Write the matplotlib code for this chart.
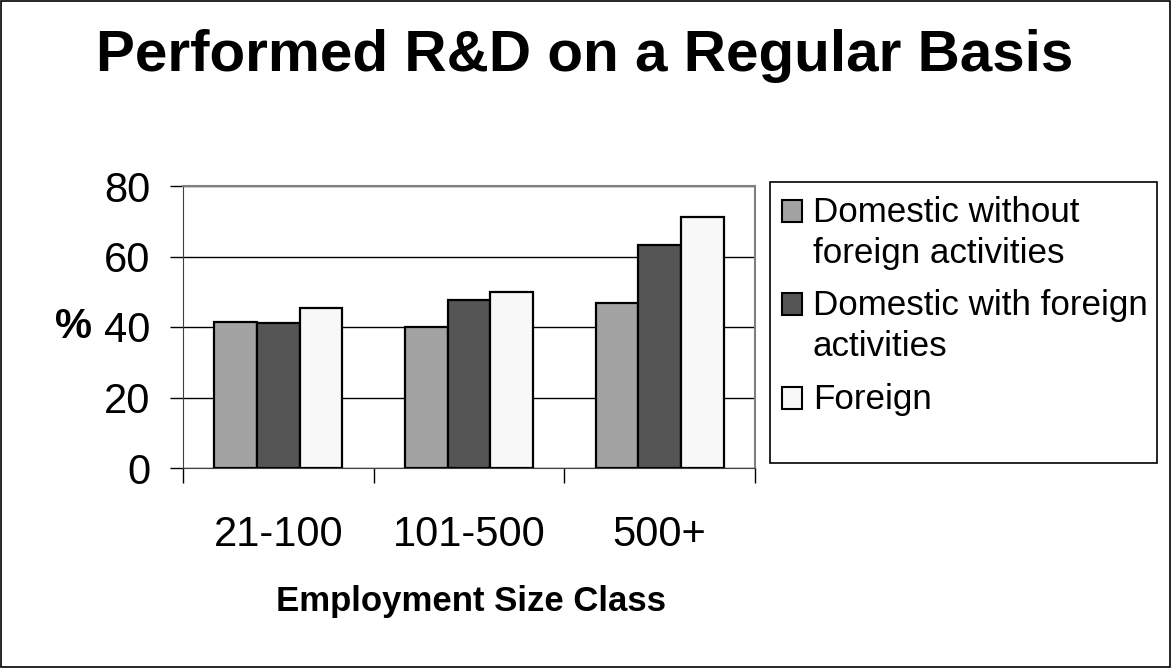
#!/usr/bin/env python3
"""Performed R&D on a Regular Basis — grouped bars by employment size class."""
import matplotlib
matplotlib.use("Agg")
import matplotlib.pyplot as plt
import matplotlib.patches as mpatches
import numpy as np

plt.rcParams["font.family"] = ["Liberation Sans", "DejaVu Sans"]

# ── data ─────────────────────────────────────────────────────────────────────
size_classes = ["21-100", "101-500", "500+"]
series_names = ["Domestic without\nforeign activities",
                "Domestic with foreign\nactivities",
                "Foreign"]
domestic_no_foreign = [41.3, 40.0, 46.7]
domestic_foreign = [41.1, 47.8, 63.4]
foreign = [45.4, 50.0, 71.1]
y_ticks = [0, 20, 40, 60, 80]

colors = ["#a3a3a3", "#555555", "#f8f8f8"]

W, H = 1171, 668
fig = plt.figure(figsize=(W / 100, H / 100), dpi=100)


def fx(px):
    return px / W


def fy(py):
    return 1 - py / H


# outer frame round the whole picture
fig.patches.append(mpatches.Rectangle((0.001, 0.001), 0.998, 0.997, transform=fig.transFigure,
                                      fill=False, ec="black", lw=1.2))

fig.text(fx(585), fy(71), "Performed R&D on a Regular Basis", ha="center", va="baseline",
         fontsize=42, fontweight="bold")

ax = fig.add_axes([fx(183), fy(468), fx(755 - 183), (468 - 186) / H])

x = np.arange(len(size_classes))
bw = 0.224
for i, vals in enumerate([domestic_no_foreign, domestic_foreign, foreign]):
    ax.bar(x + (i - 1) * bw, vals, bw, color=colors[i], edgecolor="black", lw=1.6,
           zorder=3, label=series_names[i])

ax.set_xlim(-0.5, len(size_classes) - 0.5)
ax.set_ylim(0, 80)
ax.set_yticks(y_ticks)
ax.tick_params(axis="y", labelsize=30, length=9.5, width=1, pad=14, direction="out")
ax.yaxis.grid(True, color="black", lw=1, zorder=1)

# category boundaries as ticks, labels at group centres
ax.set_xticks(np.arange(len(size_classes) + 1) - 0.5)
ax.set_xticklabels([])
ax.tick_params(axis="x", length=11, width=1, direction="out")
for xi, lab in zip(x, size_classes):
    ax.text(xi, -0.2376, lab, transform=ax.get_xaxis_transform(), ha="center", va="center",
            fontsize=30)

for side in ("top", "right"):
    ax.spines[side].set_color("#808080")
    ax.spines[side].set_linewidth(1.5)
ax.spines["left"].set_color("#404040")
ax.spines["bottom"].set_color("#404040")

fig.text(fx(74), fy(327), "%", ha="center", va="center", fontsize=30, fontweight="bold")
fig.text(fx(471), fy(602), "Employment Size Class", ha="center", va="center",
         fontsize=25, fontweight="bold")

# legend drawn by hand: handle square sits on the first line of each entry
fig.patches.append(mpatches.Rectangle((fx(770), fy(463)), fx(1157 - 770), (463 - 182) / H,
                                      transform=fig.transFigure, fill=False, ec="black", lw=1.2))
first_baselines = [222, 315, 409]
line_pitch = 41
for name, col, base in zip(series_names, colors, first_baselines):
    fig.patches.append(mpatches.Rectangle((fx(782), fy(base)), fx(20), 22 / H,
                                          transform=fig.transFigure, fc=col, ec="black", lw=1.5))
    for k, line in enumerate(name.split("\n")):
        fig.text(fx(813), fy(base + k * line_pitch), line, ha="left", va="baseline",
                 fontsize=25.2)

fig.savefig("out.png", dpi=100)
print("Saved → out.png")
